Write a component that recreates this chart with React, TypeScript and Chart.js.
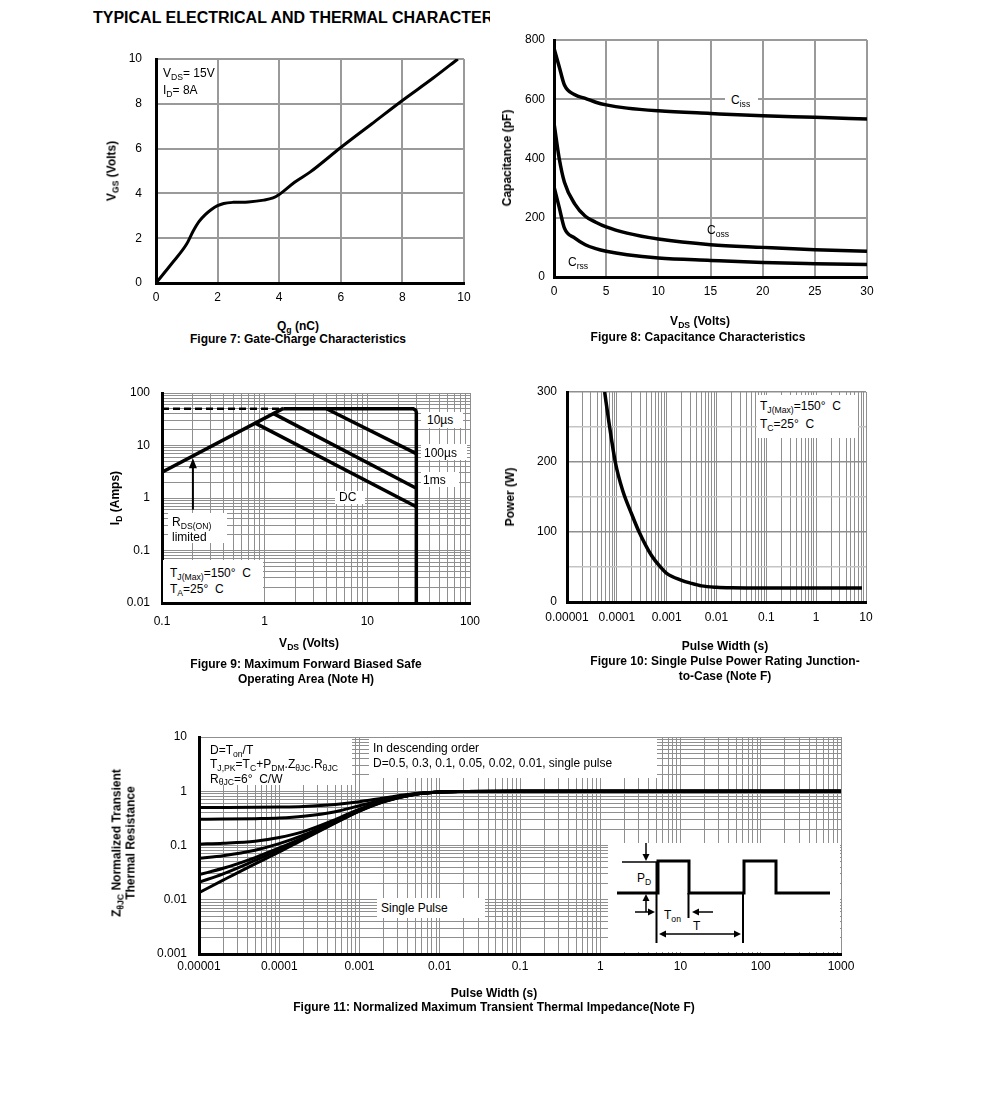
import React, { useEffect, useRef } from "react";
import { Chart, registerables } from "chart.js";

Chart.register(...registerables);

const FONT = "'Liberation Sans', Arial, Helvetica, sans-serif";

/* ---------------- Figure 7: gate charge ---------------- */
const gateChargeNc = [0, 0.5, 1.0, 1.2, 1.4, 1.6, 1.8, 2.0, 2.2, 2.5, 3.0, 3.5, 3.8, 4.0, 4.5, 5.0, 6.0, 7.0, 8.0, 9.0, 9.8];
const gateVoltageV = [0, 0.85, 1.75, 2.3, 2.75, 3.05, 3.28, 3.45, 3.55, 3.6, 3.62, 3.7, 3.8, 3.95, 4.5, 4.95, 6.05, 7.1, 8.15, 9.15, 10];

/* ---------------- Figure 8: capacitance ---------------- */
const capVds = [0, 0.5, 1, 2, 3, 4, 5, 7, 10, 15, 20, 25, 30];
const cissPf = [772, 710, 648, 615, 603, 590, 581, 570, 561, 552, 544, 539, 533];
const cossPf = [520, 400, 320, 246, 205, 185, 169, 148, 128, 109, 100, 92, 87];
const crssPf = [305, 235, 165, 131, 109, 96, 87, 75, 64, 56, 49, 45, 42];

/* ---------------- Figure 9: safe operating area ---------------- */
const rdsLimitV = [0.1, 1.52];
const rdsLimitA = [3.1, 51];
const pkLimitV = [0.1, 1.52];
const pkLimitA = [50, 50];
const boundaryV = [1.52, 28, 29.6, 30, 30];
const boundaryA = [50, 50, 47, 43, 0.01];
const line10usV = [4.0, 30];
const line10usA = [50, 7.0];
const line100usV = [1.21, 30];
const line100usA = [41, 1.53];
const lineDcV = [0.81, 30];
const lineDcA = [26.7, 0.68];
const soaArrowV = 0.2;
const soaArrowA = [0.6, 5.7];
const soaXLabels = ["0.1", "1", "10", "100"];
const soaYLabels = ["0.01", "0.1", "1", "10", "100"];

/* ---------------- Figure 10: single pulse power ---------------- */
const spPulseS = [5.7e-5, 7e-5, 9.3e-5, 1.3e-4, 2e-4, 2.8e-4, 5e-4, 7.5e-4, 1e-3, 2e-3, 3e-3, 5e-3, 1e-2, 2e-2, 0.1, 1, 8.3];
const spPowerW = [300, 255, 200, 160, 125, 100, 66, 50, 41, 31, 27, 23, 21, 20.3, 20, 20, 20];
const spXLabels = ["0.00001", "0.0001", "0.001", "0.01", "0.1", "1", "10"];

/* ---------------- Figure 11: transient thermal impedance ---------------- */
const zthPulseS = [1e-5, 2e-5, 5e-5, 1e-4, 2e-4, 5e-4, 1e-3, 2e-3, 5e-3, 1e-2, 2e-2, 0.1, 1000];
const zthD05 = [0.5, 0.502, 0.506, 0.512, 0.525, 0.57, 0.64, 0.75, 0.91, 0.97, 0.99, 1, 1];
const zthD03 = [0.305, 0.307, 0.312, 0.32, 0.345, 0.42, 0.54, 0.7, 0.9, 0.97, 0.99, 1, 1];
const zthD01 = [0.106, 0.11, 0.12, 0.14, 0.18, 0.3, 0.47, 0.665, 0.89, 0.97, 0.99, 1, 1];
const zthD005 = [0.058, 0.065, 0.082, 0.108, 0.155, 0.28, 0.45, 0.655, 0.885, 0.97, 0.99, 1, 1];
const zthD002 = [0.029, 0.038, 0.06, 0.09, 0.14, 0.27, 0.44, 0.65, 0.88, 0.97, 0.99, 1, 1];
const zthD001 = [0.021, 0.03, 0.053, 0.083, 0.135, 0.265, 0.435, 0.645, 0.88, 0.97, 0.99, 1, 1];
const zthSingle = [0.0135, 0.023, 0.046, 0.076, 0.13, 0.26, 0.43, 0.64, 0.88, 0.97, 0.99, 1, 1];
const zthXLabels = ["0.00001", "0.0001", "0.001", "0.01", "0.1", "1", "10", "100", "1000"];
const zthYLabels = ["0.001", "0.01", "0.1", "1", "10"];

/* ---------------- helpers ---------------- */
const PAD = { l: 70, t: 28, r: 34, b: 34 };
type Area = { x: number; y: number; w: number; h: number };

const pts = (xs: number[], ys: number[]) => xs.map((x, i) => ({ x, y: ys[i] }));

function logTicks(minExp: number, maxExp: number) {
  const out: { value: number; major?: boolean }[] = [];
  for (let e = minExp; e < maxExp; e++) {
    for (let m = 1; m < 10; m++) out.push({ value: m * Math.pow(10, e), major: m === 1 });
  }
  out.push({ value: Math.pow(10, maxExp), major: true });
  return out;
}

function decadeLabel(labels: string[], minExp: number) {
  return (v: any) => {
    const val = Number(v);
    const e = Math.round(Math.log10(val));
    if (Math.abs(val - Math.pow(10, e)) / Math.pow(10, e) < 1e-6) return labels[e - minExp];
    return "";
  };
}

const tickFont = { family: FONT, size: 12 };
const border = { display: true, color: "#000", width: 3 };

function logAxis(minExp: number, maxExp: number, labels: string[], padding: number, gridColor = "#8f8f8f") {
  return {
    type: "logarithmic",
    min: Math.pow(10, minExp),
    max: Math.pow(10, maxExp),
    afterBuildTicks: (axis: any) => {
      axis.ticks = logTicks(minExp, maxExp);
    },
    ticks: { autoSkip: false, maxRotation: 0, padding, font: tickFont, color: "#000", callback: decadeLabel(labels, minExp) },
    grid: { color: gridColor, lineWidth: 1, drawTicks: false },
    border,
  };
}

function linAxis(min: number, max: number, step: number, padding: number, extra: any = {}) {
  return {
    type: "linear",
    min,
    max,
    ticks: { stepSize: step, padding, font: tickFont, color: "#000", maxRotation: 0, ...(extra.ticks || {}) },
    grid: { color: "#9a9a9a", lineWidth: 2, drawTicks: false, ...(extra.grid || {}) },
    border,
  };
}

function makeOptions(x: any, y: any) {
  return {
    responsive: false,
    animation: false,
    events: [],
    layout: { padding: { left: 0, top: PAD.t, right: PAD.r, bottom: 0 } },
    plugins: { legend: { display: false }, tooltip: { enabled: false } },
    elements: { point: { radius: 0 }, line: { borderColor: "#000", borderWidth: 3, fill: false } },
    scales: {
      x: { ...x, position: "bottom", afterFit: (s: any) => { s.height = PAD.b; } },
      y: { ...y, position: "left", afterFit: (s: any) => { s.width = PAD.l; } },
    },
  };
}

function ChartBox({ area, build }: { area: Area; build: () => any }) {
  const ref = useRef<HTMLCanvasElement>(null);
  useEffect(() => {
    const c = new Chart(ref.current as HTMLCanvasElement, build());
    return () => c.destroy();
  }, []);
  const W = area.w + PAD.l + PAD.r;
  const H = area.h + PAD.t + PAD.b;
  return (
    <canvas
      ref={ref}
      width={W}
      height={H}
      style={{ position: "absolute", left: area.x - PAD.l, top: area.y - PAD.t, width: W, height: H }}
    />
  );
}

const Sub = ({ children }: { children: any }) => (
  <span style={{ fontSize: "0.72em", position: "relative", top: "0.32em" }}>{children}</span>
);

function CText({ cx, cy, children, size = 12, bold = true }: any) {
  return (
    <div
      style={{
        position: "absolute",
        left: cx,
        top: cy,
        transform: "translate(-50%,-50%)",
        whiteSpace: "nowrap",
        fontSize: size,
        lineHeight: `${size}px`,
        fontWeight: bold ? "bold" : "normal",
      }}
    >
      {children}
    </div>
  );
}

function VText({ cx, cy, children, size = 12, bold = true }: any) {
  return (
    <div
      style={{
        position: "absolute",
        left: cx,
        top: cy,
        transform: "translate(-50%,-50%) rotate(-90deg)",
        whiteSpace: "nowrap",
        fontSize: size,
        lineHeight: `${size}px`,
        fontWeight: bold ? "bold" : "normal",
      }}
    >
      {children}
    </div>
  );
}

function Box({ x, y, w, h, children, pl = 0, pt = 0, lh = 14, size = 12 }: any) {
  return (
    <div
      style={{
        position: "absolute",
        left: x,
        top: y,
        width: w,
        height: h,
        background: "#fff",
        paddingLeft: pl,
        paddingTop: pt,
        boxSizing: "border-box",
        fontSize: size,
        lineHeight: `${lh}px`,
        whiteSpace: "nowrap",
      }}
    >
      {children}
    </div>
  );
}

function Label({ x, cy, children, size = 12 }: any) {
  return (
    <div style={{ position: "absolute", left: x, top: cy, transform: "translateY(-50%)", fontSize: size, lineHeight: `${size}px`, whiteSpace: "nowrap" }}>
      {children}
    </div>
  );
}

/* ---------------- chart builders ---------------- */
const AREA7: Area = { x: 156, y: 59, w: 308, h: 224 };
const AREA8: Area = { x: 554, y: 40, w: 313, h: 237 };
const AREA9: Area = { x: 162, y: 393, w: 308, h: 210 };
const AREA10: Area = { x: 567, y: 392, w: 299, h: 210 };
const AREA11: Area = { x: 199, y: 737, w: 642, h: 217 };

const build7 = () => ({
  type: "line",
  data: {
    datasets: [{ data: pts(gateChargeNc, gateVoltageV), cubicInterpolationMode: "monotone", borderWidth: 3 }],
  },
  options: makeOptions(linAxis(0, 10, 2, 7), linAxis(0, 10, 2, 14)),
});

const build8 = () => ({
  type: "line",
  data: {
    datasets: [
      { data: pts(capVds, cissPf), cubicInterpolationMode: "monotone", borderWidth: 3.5 },
      { data: pts(capVds, cossPf), cubicInterpolationMode: "monotone", borderWidth: 3.5 },
      { data: pts(capVds, crssPf), cubicInterpolationMode: "monotone", borderWidth: 3.5 },
    ],
  },
  options: makeOptions(linAxis(0, 30, 5, 7), linAxis(0, 800, 200, 9)),
});

const arrowPlugin = {
  id: "soaArrow",
  afterDatasetsDraw(chart: any) {
    const { ctx, scales } = chart;
    const px = scales.x.getPixelForValue(soaArrowV);
    const y0 = scales.y.getPixelForValue(soaArrowA[0]);
    const y1 = scales.y.getPixelForValue(soaArrowA[1]);
    ctx.save();
    ctx.strokeStyle = "#000";
    ctx.fillStyle = "#000";
    ctx.lineWidth = 2;
    ctx.beginPath();
    ctx.moveTo(px, y0);
    ctx.lineTo(px, y1 + 8);
    ctx.stroke();
    ctx.beginPath();
    ctx.moveTo(px, y1);
    ctx.lineTo(px - 4, y1 + 10);
    ctx.lineTo(px + 4, y1 + 10);
    ctx.closePath();
    ctx.fill();
    ctx.restore();
  },
};

const build9 = () => ({
  type: "line",
  data: {
    datasets: [
      { data: pts(pkLimitV, pkLimitA), borderDash: [7, 4], borderWidth: 2.5 },
      { data: pts(rdsLimitV, rdsLimitA), borderWidth: 3.5 },
      { data: pts(boundaryV, boundaryA), borderWidth: 3.5 },
      { data: pts(line10usV, line10usA), borderWidth: 3.5 },
      { data: pts(line100usV, line100usA), borderWidth: 3.5 },
      { data: pts(lineDcV, lineDcA), borderWidth: 3.5 },
    ],
  },
  options: makeOptions(logAxis(-1, 2, soaXLabels, 11), logAxis(-2, 2, soaYLabels, 12)),
  plugins: [arrowPlugin],
});

const build10 = () => ({
  type: "line",
  data: {
    datasets: [{ data: pts(spPulseS, spPowerW), cubicInterpolationMode: "monotone", borderWidth: 3.5 }],
  },
  options: makeOptions(
    logAxis(-5, 1, spXLabels, 8),
    linAxis(0, 300, 50, 10, {
      ticks: { callback: (v: any) => (Number(v) % 100 === 0 ? String(v) : "") },
      grid: { lineWidth: 1.5, color: (c: any) => (c.tick && c.tick.value % 100 === 0 ? "#8f8f8f" : "#c4c4c4") },
    })
  ),
});

const build11 = () => ({
  type: "line",
  data: {
    datasets: [zthD05, zthD03, zthD01, zthD005, zthD002, zthD001, zthSingle].map((arr) => ({
      data: pts(zthPulseS, arr),
      cubicInterpolationMode: "monotone",
      borderWidth: 3,
    })),
  },
  options: makeOptions(logAxis(-5, 3, zthXLabels, 5), logAxis(-3, 1, zthYLabels, 12)),
});

/* ---------------- page ---------------- */
export default function App() {
  return (
    <div
      style={{
        position: "absolute",
        left: 0,
        top: 0,
        width: 991,
        height: 1111,
        background: "#fff",
        overflow: "hidden",
        fontFamily: FONT,
        color: "#000",
      }}
    >
      <div
        style={{
          position: "absolute",
          left: 93,
          top: 10,
          width: 397,
          overflow: "hidden",
          whiteSpace: "nowrap",
          fontWeight: "bold",
          fontSize: 16,
          lineHeight: "16px",
        }}
      >
        TYPICAL ELECTRICAL AND THERMAL CHARACTERISTICS
      </div>

      {/* Figure 7 */}
      <ChartBox area={AREA7} build={build7} />
      <div style={{ position: "absolute", left: 163, top: 65, fontSize: 12, lineHeight: "16px", whiteSpace: "nowrap" }}>
        <div>V<Sub>DS</Sub>= 15V</div>
        <div>I<Sub>D</Sub>= 8A</div>
      </div>
      <VText cx={112} cy={171}>V<Sub>GS</Sub> (Volts)</VText>
      <CText cx={298} cy={326}>Q<Sub>g</Sub> (nC)</CText>
      <CText cx={298} cy={339}>Figure 7: Gate-Charge Characteristics</CText>

      {/* Figure 8 */}
      <ChartBox area={AREA8} build={build8} />
      <Box x={725} y={93} w={33} h={14} pl={6} lh={14}>C<Sub>iss</Sub></Box>
      <Label x={707} cy={230}>C<Sub>oss</Sub></Label>
      <Label x={568} cy={262}>C<Sub>rss</Sub></Label>
      <VText cx={507} cy={158}>Capacitance (pF)</VText>
      <CText cx={700} cy={321}>V<Sub>DS</Sub> (Volts)</CText>
      <CText cx={698} cy={337}>Figure 8: Capacitance Characteristics</CText>

      {/* Figure 9 */}
      <ChartBox area={AREA9} build={build9} />
      <Box x={421} y={412} w={42} h={16} pl={6} pt={1} lh={14}>10µs</Box>
      <Box x={421} y={444} w={46} h={16} pl={3} pt={2} lh={14}>100µs</Box>
      <Box x={421} y={472} w={38} h={15} pl={2} pt={1} lh={14}>1ms</Box>
      <Box x={335} y={491} w={30} h={13} pl={4} pt={0} lh={13}>DC</Box>
      <Box x={168} y={513} w={59} h={30} pl={4} pt={3} lh={13.5}>
        <div>R<Sub>DS(ON)</Sub></div>
        <div>limited</div>
      </Box>
      <Box x={163} y={560} w={100} h={42} pl={7} pt={6} lh={15}>
        <div>T<Sub>J(Max)</Sub>=150°&nbsp; C</div>
        <div>T<Sub>A</Sub>=25°&nbsp; C</div>
      </Box>
      <VText cx={115} cy={498}>I<Sub>D</Sub> (Amps)</VText>
      <CText cx={309} cy={643}>V<Sub>DS</Sub> (Volts)</CText>
      <CText cx={306} cy={664}>Figure 9: Maximum Forward Biased Safe</CText>
      <CText cx={306} cy={679}>Operating Area (Note H)</CText>

      {/* Figure 10 */}
      <ChartBox area={AREA10} build={build10} />
      <Box x={757} y={395} w={101} h={43} pl={3} pt={3} lh={17}>
        <div>T<Sub>J(Max)</Sub>=150°&nbsp; C</div>
        <div>T<Sub>C</Sub>=25°&nbsp; C</div>
      </Box>
      <VText cx={510} cy={497}>Power (W)</VText>
      <CText cx={725} cy={646}>Pulse Width (s)</CText>
      <CText cx={725} cy={661}>Figure 10: Single Pulse Power Rating Junction-</CText>
      <CText cx={725} cy={676}>to-Case (Note F)</CText>

      {/* Figure 11 */}
      <ChartBox area={AREA11} build={build11} />
      <Box x={201} y={738} w={151} h={47} pl={9} pt={6} lh={13.3}>
        <div>D=T<Sub>on</Sub>/T</div>
        <div>T<Sub>J,PK</Sub>=T<Sub>C</Sub>+P<Sub>DM</Sub>.Z<Sub>θJC</Sub>.R<Sub>θJC</Sub></div>
        <div>R<Sub>θJC</Sub>=6°&nbsp; C/W</div>
      </Box>
      <Box x={369} y={738} w={288} h={40} pl={4} pt={3} lh={15}>
        <div>In descending order</div>
        <div>D=0.5, 0.3, 0.1, 0.05, 0.02, 0.01, single pulse</div>
      </Box>
      <Box x={377} y={898} w={108} h={20} pl={4} pt={3} lh={14}>Single Pulse</Box>
      <div style={{ position: "absolute", left: 608, top: 843, width: 232, height: 109, background: "#fff" }}>
        <svg width={232} height={109} style={{ position: "absolute", left: 0, top: 0, overflow: "visible" }}>
          <polyline
            points="9,50 50,50 50,18 81,18 81,50 136,50 136,18 168,18 168,50 222,50"
            fill="none"
            stroke="#000"
            strokeWidth={3}
          />
          <line x1={14} y1={19} x2={49} y2={19} stroke="#000" strokeWidth={1.5} />
          <line x1={48.5} y1={19} x2={48.5} y2={100} stroke="#000" strokeWidth={2} />
          <line x1={80.5} y1={50} x2={80.5} y2={75} stroke="#000" strokeWidth={2} />
          <line x1={135} y1={50} x2={135} y2={100} stroke="#000" strokeWidth={2} />
          <line x1={38} y1={0} x2={38} y2={12} stroke="#000" strokeWidth={1.5} />
          <polygon points="34.5,11 41.5,11 38,18" fill="#000" />
          <line x1={38} y1={69} x2={38} y2={57} stroke="#000" strokeWidth={1.5} />
          <polygon points="34.5,58 41.5,58 38,51" fill="#000" />
          <line x1={27} y1={69} x2={41} y2={69} stroke="#000" strokeWidth={1.5} />
          <polygon points="40,65.5 40,72.5 47,69" fill="#000" />
          <line x1={105} y1={69} x2={90} y2={69} stroke="#000" strokeWidth={1.5} />
          <polygon points="91,65.5 91,72.5 84,69" fill="#000" />
          <line x1={57} y1={91} x2={127} y2={91} stroke="#000" strokeWidth={1.5} />
          <polygon points="58,87.5 58,94.5 51,91" fill="#000" />
          <polygon points="126,87.5 126,94.5 133,91" fill="#000" />
        </svg>
        <Label x={29} cy={35}>P<Sub>D</Sub></Label>
        <Label x={56} cy={72}>T<Sub>on</Sub></Label>
        <Label x={85} cy={83}>T</Label>
      </div>
      <div style={{ position: "absolute", left: 124, top: 843, transform: "translate(-50%,-50%) rotate(-90deg)", fontWeight: "bold", fontSize: 12, lineHeight: "13px", textAlign: "center", whiteSpace: "nowrap" }}>
        <div>Z<Sub>θJC</Sub> Normalized Transient</div>
        <div>Thermal Resistance</div>
      </div>
      <CText cx={494} cy={993}>Pulse Width (s)</CText>
      <CText cx={494} cy={1007}>Figure 11: Normalized Maximum Transient Thermal Impedance(Note F)</CText>
    </div>
  );
}
